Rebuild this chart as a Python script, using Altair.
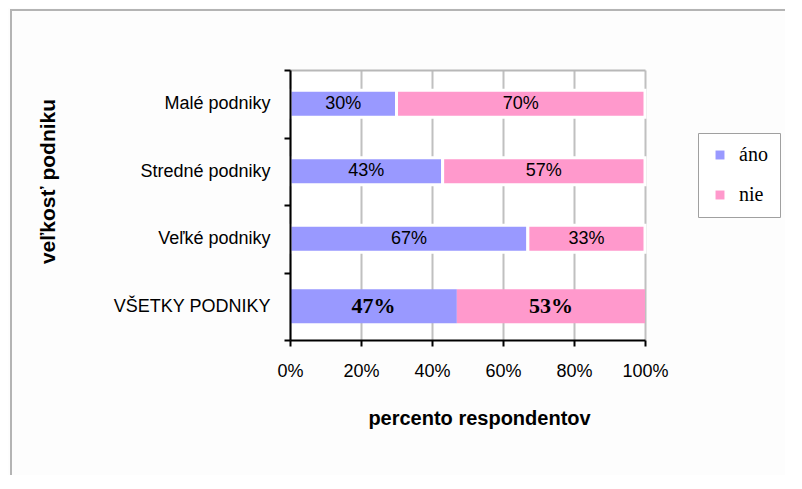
import altair as alt
import pandas as pd

kategorie = ["Malé podniky", "Stredné podniky", "Veľké podniky", "VŠETKY PODNIKY"]
ano = [30, 43, 67, 47]
nie = [70, 57, 33, 53]
odpovede = ["áno", "nie"]
farby = ["#9999FF", "#FF99CC"]
x_ticks = [0, 20, 40, 60, 80, 100]

rows = []
for k, a, n in zip(kategorie, ano, nie):
    rows.append({"kat": k, "odp": "áno", "ord": 0, "pct": a, "lbl": f"{a}%"})
    rows.append({"kat": k, "odp": "nie", "ord": 1, "pct": n, "lbl": f"{n}%"})
df = pd.DataFrame(rows)

ALL = "VŠETKY PODNIKY"
FONT = "Liberation Sans"
SERIF = "Liberation Serif"

base = alt.Chart(df).transform_stack(
    stack="pct", as_=["x0", "x1"], groupby=["kat"], sort=[alt.SortField("ord")]
).transform_calculate(mid="(datum.x0 + datum.x1) / 2")

y_enc = alt.Y(
    "kat:N",
    sort=kategorie,
    scale=alt.Scale(paddingInner=0, paddingOuter=0),
    axis=alt.Axis(
        title="veľkosť podniku",
        titleFont=FONT, titleFontSize=21, titleFontWeight="bold", titleColor="black",
        titleX=-232, titleY=111, titleAngle=270,
        labelFont=FONT, labelFontSize=18, labelColor="black", labelPadding=14,
        tickBand="extent", tickSize=6, tickColor="black", tickWidth=2,
        domainColor="black", domainWidth=2, grid=False, zindex=2,
    ),
)

x_scale = alt.Scale(domain=[0, 100], nice=False)

bars = base.mark_bar(stroke="white").encode(
    x=alt.X(
        "x0:Q", scale=x_scale,
        axis=alt.Axis(
            values=x_ticks, labelExpr="datum.value + '%'",
            title="percento respondentov",
            titleFont=FONT, titleFontSize=20, titleFontWeight="bold", titleColor="black",
            titleX=189, titleY=78, titleBaseline="middle",
            labelFont=FONT, labelFontSize=18, labelColor="black", labelPadding=16,
            labelFlush=False,
            tickSize=6, tickColor="black", tickWidth=2,
            domainColor="black", domainWidth=2,
            grid=True, gridColor="#c0c0c0", gridWidth=2, zindex=0,
        ),
    ),
    x2="x1:Q",
    y=y_enc,
    color=alt.Color(
        "odp:N",
        scale=alt.Scale(domain=odpovede, range=farby),
        legend=alt.Legend(
            title=None, orient="none", legendX=408, legendY=63,
            strokeColor="#a0a0a0", fillColor="white", padding=12,
            symbolType="square", symbolSize=80, symbolStrokeWidth=0,
            labelFont=SERIF, labelFontSize=20, labelColor="black",
            rowPadding=20, labelOffset=9,
        ),
    ),
    size=alt.condition(f"datum.kat === '{ALL}'", alt.value(34), alt.value(27)),
    strokeWidth=alt.condition(f"datum.kat === '{ALL}'", alt.value(0), alt.value(3)),
)

labels = base.transform_filter(f"datum.kat !== '{ALL}'").mark_text(
    font=FONT, fontSize=18, color="black", baseline="middle"
).encode(
    x=alt.X(
        "mid:Q", scale=x_scale,
        axis=alt.Axis(orient="top", labels=False, ticks=False, grid=False, title=None,
                      domainColor="#b8b8b8", domainWidth=2),
    ),
    y=alt.Y("kat:N", sort=kategorie),
    text="lbl:N",
)

labels_all = base.transform_filter(f"datum.kat === '{ALL}'").mark_text(
    font=SERIF, fontSize=22, fontWeight="bold", color="black", baseline="middle"
).encode(
    x=alt.X("mid:Q", scale=x_scale, axis=None),
    y=alt.Y("kat:N", sort=kategorie),
    text="lbl:N",
)

frame_df = pd.DataFrame({"f": [0]})
frame_left = alt.Chart(frame_df).mark_rule(color="#b4b4b4", strokeWidth=2).encode(
    x=alt.value(-279), y=alt.value(-60), y2=alt.value(410)
)
frame_top = alt.Chart(frame_df).mark_rule(color="#b4b4b4", strokeWidth=2).encode(
    x=alt.value(-280), x2=alt.value(500), y=alt.value(-60)
)

chart = alt.layer(frame_left, frame_top, bars, labels, labels_all).resolve_axis(
    x="independent"
).properties(
    width=355, height=270,
    autosize=alt.AutoSizeParams(type="none"),
    padding={"left": 282, "top": 62, "right": 140, "bottom": 135},
    background="#fdfdfd",
).configure_view(stroke="transparent", fill="white")

chart.save("out.html", embed_options={"renderer": "svg", "actions": False})
